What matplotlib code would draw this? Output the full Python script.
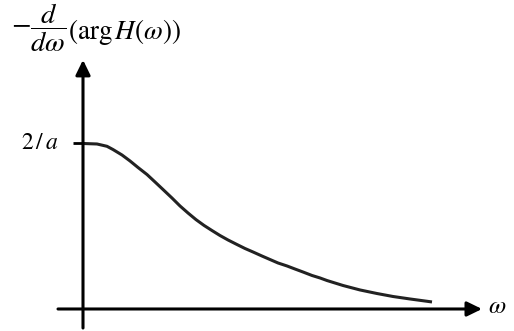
import matplotlib
matplotlib.use('Agg')
import matplotlib.pyplot as plt

plt.rcParams['mathtext.fontset'] = 'stix'
plt.rcParams['font.family'] = ['Liberation Serif', 'DejaVu Serif']

# group delay curve (w, tau), 2/a -> 2
w = [0.0, 0.28, 0.48, 0.60, 0.78, 0.94, 1.10, 1.28, 1.44, 1.60, 1.78, 1.94,
     2.10, 2.26, 2.42, 2.58, 2.74, 2.90, 3.08, 3.24, 3.40, 3.58, 3.74, 3.90,
     4.08, 4.24, 4.40, 4.58, 4.74, 4.88, 5.20, 5.54, 5.88, 6.20, 6.54, 6.98]
tau = [2.000, 1.994, 1.966, 1.927, 1.861, 1.789, 1.710, 1.625, 1.535, 1.444,
       1.341, 1.245, 1.160, 1.080, 1.010, 0.948, 0.888, 0.834, 0.779, 0.731,
       0.689, 0.640, 0.598, 0.556, 0.520, 0.483, 0.447, 0.405, 0.375, 0.344,
       0.284, 0.230, 0.187, 0.151, 0.121, 0.085]
ytick_val = 2.0
ytick_label = r'$2\,/\,a$'
ylabel_frac = r'$-\dfrac{d}{d\omega}$'
ylabel_arg = r'$\left(\mathrm{arg}\,H(\omega)\right)$'
xlabel = r'$\omega$'

fig = plt.figure(figsize=(5.14, 3.31), dpi=100)
ax = fig.add_axes([0, 0, 1, 1])
ax.set_xlim(-1.66, 8.62)
ax.set_ylim(-0.266, 3.734)
ax.axis('off')

arrow = dict(arrowstyle='-|>,head_length=0.45,head_width=0.22', lw=2.2,
             color='black', mutation_scale=20, shrinkA=0, shrinkB=0)
# axes with arrows
ax.annotate('', xy=(7.98, 0), xytext=(-0.5, 0), arrowprops=arrow)
ax.annotate('', xy=(0, 3.01), xytext=(0, -0.23), arrowprops=arrow)

# tick at 2/a
ax.plot([-0.2, 0], [ytick_val, ytick_val], color='black', lw=2.0,
        solid_capstyle='butt')
ax.text(-0.5, ytick_val, ytick_label, fontsize=17, ha='right', va='center')

ax.plot(w, tau, color='#222222', lw=2.2, solid_capstyle='butt',
        solid_joinstyle='round')

ax.text(8.1, 0.03, xlabel, fontsize=18, ha='left', va='center')
# y label: fraction + argument
ax.text(-1.44, 3.40, ylabel_frac, fontsize=20.5, ha='left', va='center')
ax.text(-0.30, 3.35, ylabel_arg, fontsize=19.5, ha='left', va='center')

fig.savefig('out.png', dpi=100)
